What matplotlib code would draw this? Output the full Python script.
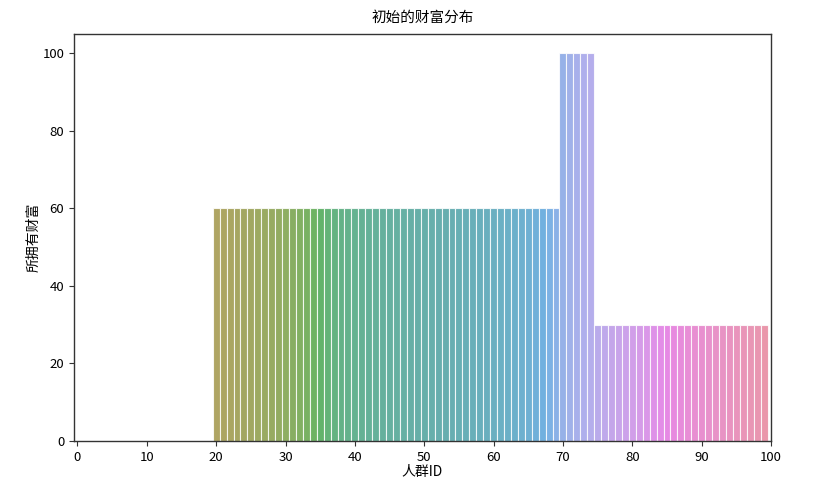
import matplotlib
matplotlib.use("Agg")
import matplotlib.pyplot as plt
import seaborn as sns
import numpy as np

plt.rcParams['font.family'] = ['Noto Sans CJK SC', 'DejaVu Sans']
plt.rcParams['axes.unicode_minus'] = False

people = list(range(100))
wealth = [0] * 20 + [60] * 50 + [100] * 5 + [30] * 25
xticks = list(range(0, 101, 10))
yticks = list(range(0, 101, 20))
title = '初始的财富分布'
xlabel = '人群ID'
ylabel = '所拥有财富'

colors = sns.color_palette('husl', len(people), desat=0.75)

fig = plt.figure(figsize=(8.35, 4.9), dpi=100)
ax = fig.add_axes([74/835, 1 - 441/490, (771-74)/835, (441-34)/490])
ax.bar(people, wealth, width=1.0, color=colors, edgecolor='white',
       linewidth=0.8, alpha=0.82)
ax.set_xlim(-0.5, 100)
ax.set_ylim(0, 105)
ax.set_xticks(xticks)
ax.set_yticks(yticks)
ax.set_title(title, fontsize=10.5, pad=9)
ax.set_xlabel(xlabel, fontsize=10, labelpad=1)
ax.set_ylabel(ylabel, fontsize=10, labelpad=1)
ax.tick_params(labelsize=9.5, length=3.5, color='#333333')
for s in ax.spines.values():
    s.set_color('#333333')
    s.set_linewidth(1.0)

fig.savefig('out.png', dpi=100)
